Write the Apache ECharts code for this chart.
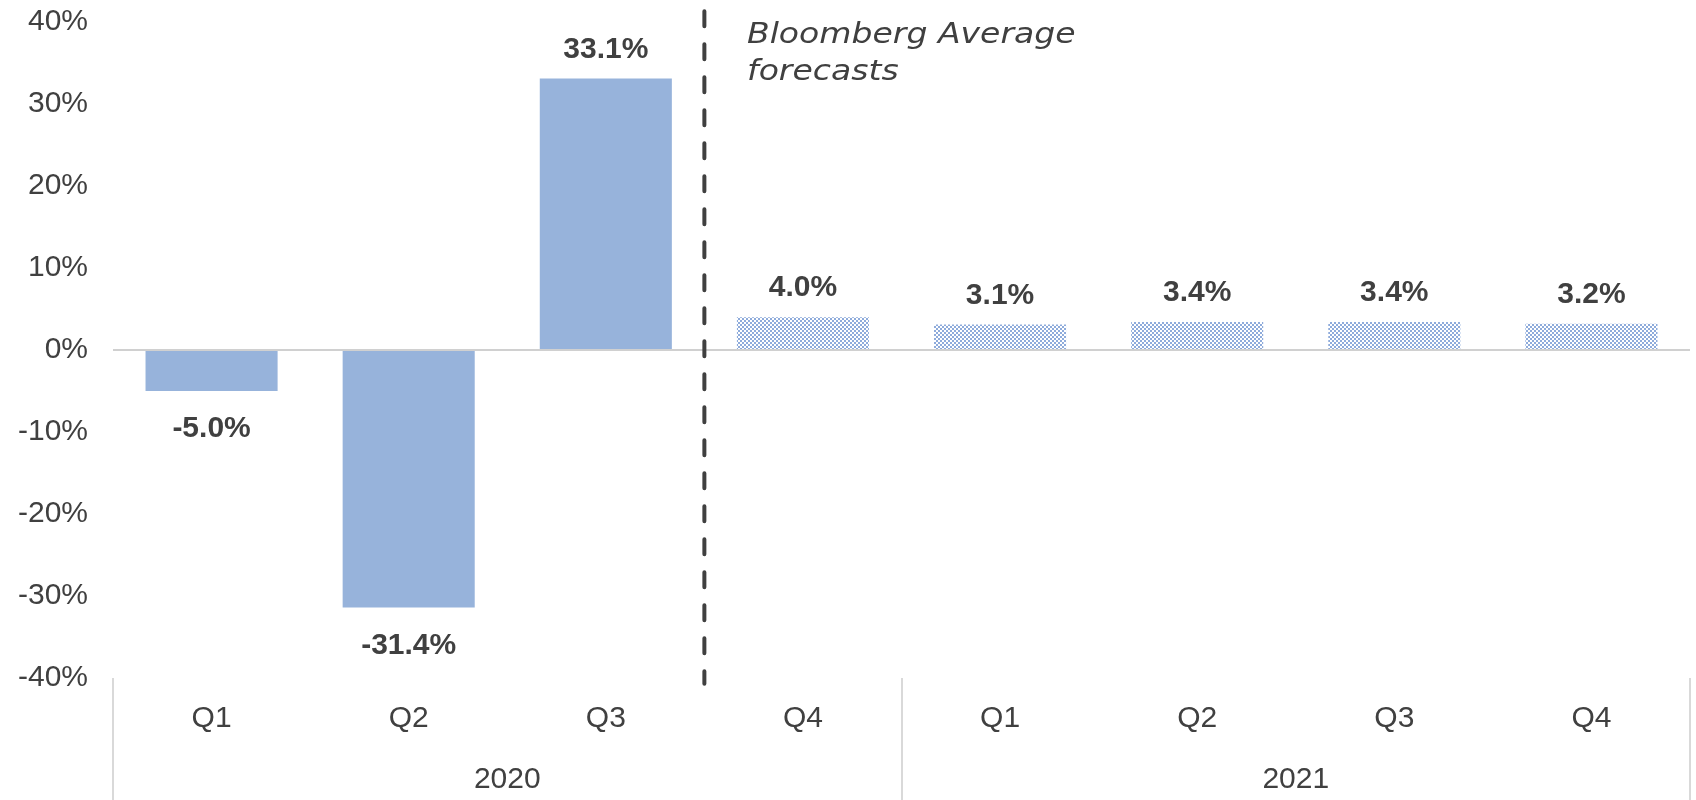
<!DOCTYPE html>
<html>
<head>
<meta charset="utf-8">
<script src="https://cdn.jsdelivr.net/npm/echarts@6/dist/echarts.min.js"></script>
<style>
  html, body { margin: 0; padding: 0; background: #fff; }
  #chart { width: 1696px; height: 800px; }
</style>
</head>
<body>
<div id="chart"></div>
<script>
  // quarters on the first axis level, years on the second
  var quarters = ['Q1', 'Q2', 'Q3', 'Q4', 'Q1', 'Q2', 'Q3', 'Q4']
  var years = ['2020', '2021']
  // GDP growth, % (annualised q/q)
  var gdpValues = [-5.0, -31.4, 33.1, 4.0, 3.1, 3.4, 3.4, 3.2]
  // from this index on the bars are Bloomberg forecasts
  var forecastFrom = 3
  var yTicks = { min: -40, max: 40, step: 10 }

  var solidBlue = '#97b3db'
  var patternBlue = '#8eabdb'
  var textGrey = '#404040'

  // checker pattern like Excel's 50% fill
  function makePattern() {
    var c = document.createElement('canvas')
    c.width = 4
    c.height = 4
    var ctx = c.getContext('2d')
    ctx.fillStyle = '#ffffff'
    ctx.fillRect(0, 0, 4, 4)
    ctx.fillStyle = patternBlue
    ctx.fillRect(0, 0, 2, 2)
    ctx.fillRect(2, 2, 2, 2)
    return c
  }
  var pattern = { image: makePattern(), repeat: 'repeat' }

  var barData = gdpValues.map(function (v, i) {
    return {
      value: v,
      itemStyle: { color: i >= forecastFrom ? pattern : solidBlue },
      label: v < 0 ? { position: 'bottom', distance: 23 } : { position: 'top', distance: 14 }
    }
  })

  var myChart = echarts.init(document.getElementById('chart'))

  var option = {
    animation: false,
    grid: { left: 113, right: 6, top: 22, bottom: 122 },
    xAxis: [
      {
        type: 'category',
        data: quarters,
        position: 'bottom',
        axisLine: { show: false },
        axisTick: { show: false },
        axisLabel: {
          fontSize: 30,
          color: textGrey,
          fontFamily: 'Liberation Sans',
          margin: 26
        }
      },
      {
        type: 'category',
        data: years,
        position: 'bottom',
        axisLine: { show: false },
        axisTick: {
          show: true,
          length: 122,
          lineStyle: { color: '#d9d9d9', width: 2 }
        },
        axisLabel: {
          fontSize: 30,
          color: textGrey,
          fontFamily: 'Liberation Sans',
          margin: 87
        }
      },
      {
        type: 'value',
        min: 0,
        max: quarters.length,
        show: false
      }
    ],
    yAxis: {
      type: 'value',
      min: yTicks.min,
      max: yTicks.max,
      interval: yTicks.step,
      splitLine: { show: false },
      axisLine: { show: false },
      axisTick: { show: false },
      axisLabel: {
        fontSize: 30,
        color: textGrey,
        fontFamily: 'Liberation Sans',
        margin: 25,
        formatter: '{value}%'
      }
    },
    series: [
      {
        type: 'bar',
        xAxisIndex: 0,
        barWidth: '67%',
        data: barData,
        label: {
          show: true,
          fontSize: 30,
          fontWeight: 'bold',
          color: textGrey,
          fontFamily: 'Liberation Sans',
          formatter: function (p) { return p.value.toFixed(1) + '%' }
        },
        markLine: {
          silent: true,
          symbol: 'none',
          label: { show: false },
          lineStyle: { color: '#d0d0d0', width: 2, type: 'solid' },
          data: [{ yAxis: 0 }]
        }
      },
      {
        // vertical divider between actuals and forecasts
        type: 'line',
        xAxisIndex: 2,
        symbol: 'none',
        clip: false,
        silent: true,
        lineStyle: { color: textGrey, width: 4, type: [15, 18], cap: 'round' },
        data: [[forecastFrom, 41.3], [forecastFrom, -40.7]],
        z: 5
      }
    ],
    graphic: [
      {
        type: 'group',
        x: 747,
        y: 0,
        scaleX: 1.14,
        children: [
          {
            type: 'text',
            x: 0,
            y: 35,
            style: {
              text: 'Bloomberg Average',
              font: 'italic 29px "DejaVu Sans"',
              fill: textGrey,
              verticalAlign: 'middle'
            }
          },
          {
            type: 'text',
            x: 0,
            y: 72,
            style: {
              text: 'forecasts',
              font: 'italic 29px "DejaVu Sans"',
              fill: textGrey,
              verticalAlign: 'middle'
            }
          }
        ]
      }
    ]
  }
  myChart.setOption(option)
</script>
</body>
</html>
